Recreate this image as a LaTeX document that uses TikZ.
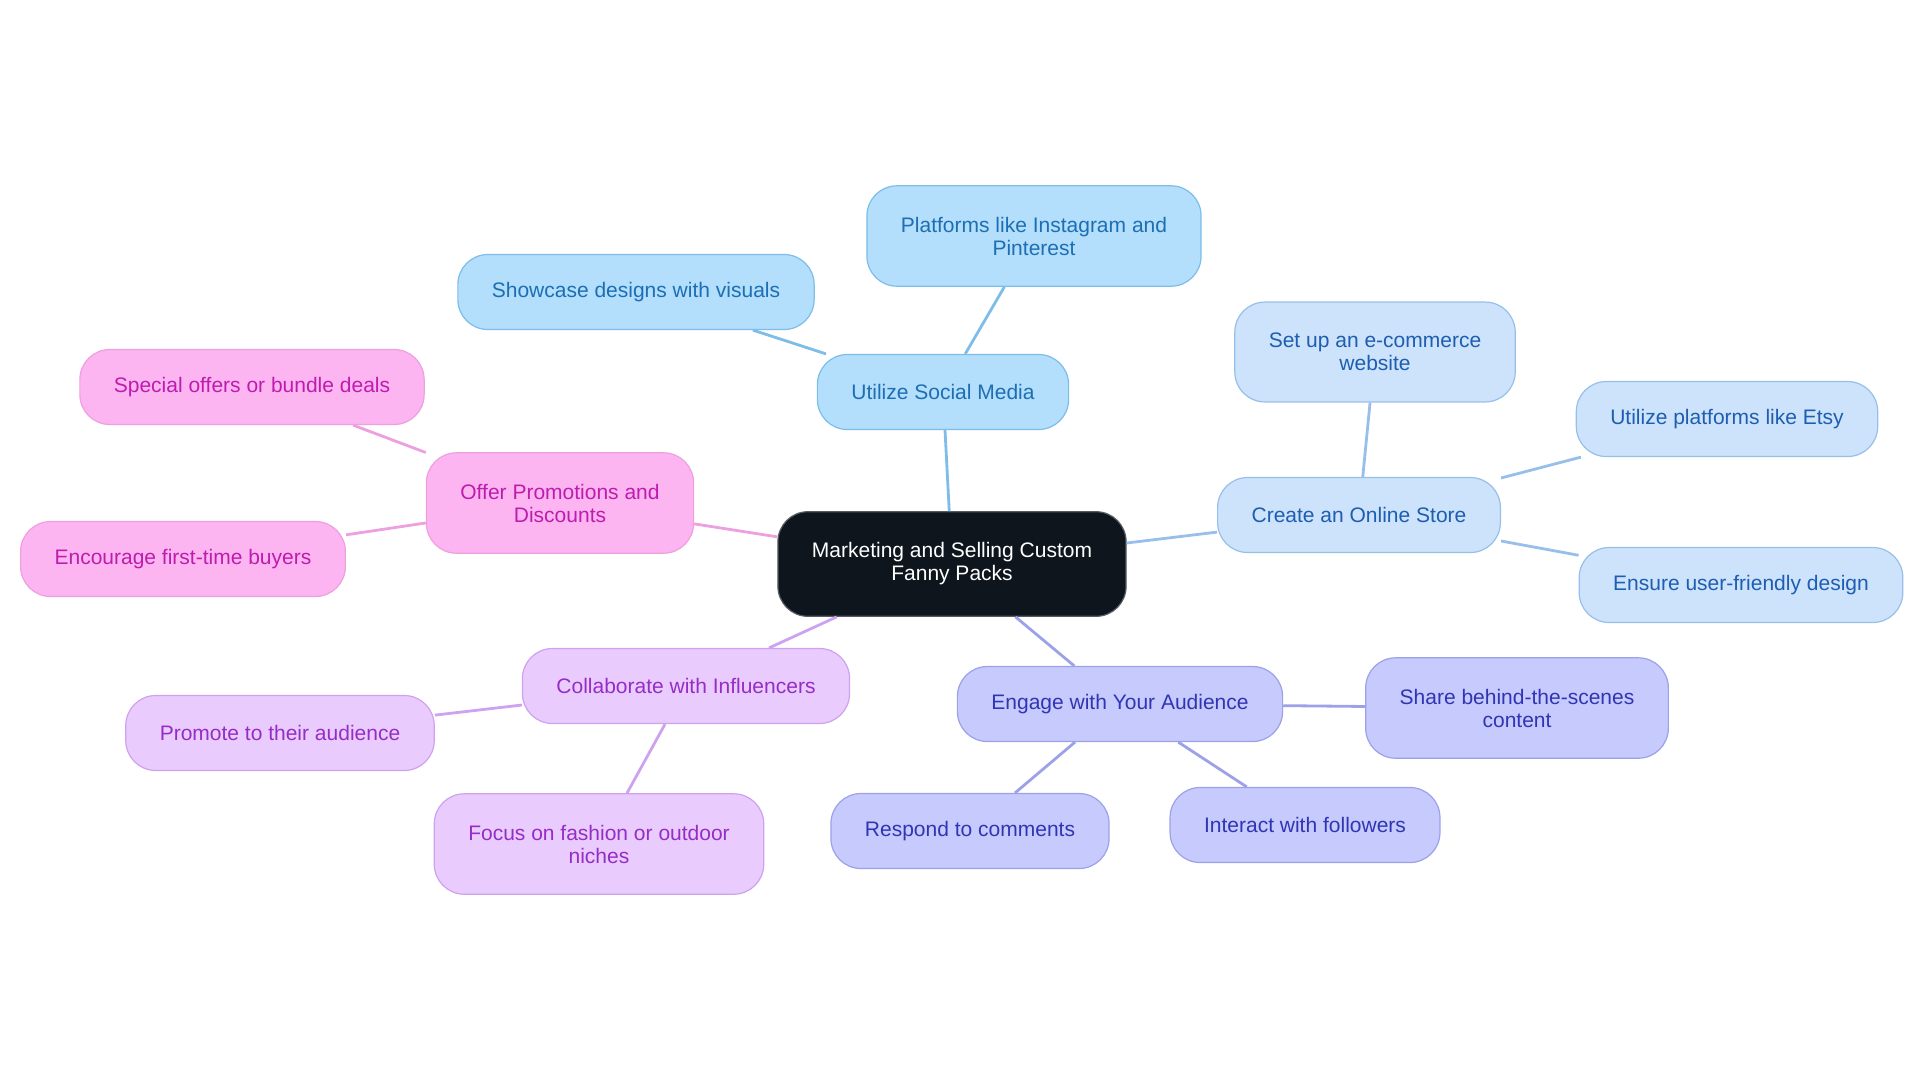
\documentclass[tikz,border=0pt]{standalone}
\usepackage{fontspec}
\setmainfont{Liberation Sans}
\usepackage{tikz}
\definecolor{RootFill}{HTML}{0E151D}
\definecolor{SocFill}{HTML}{B3DEFC}
\definecolor{SocLine}{HTML}{7DBDE8}
\definecolor{SocText}{HTML}{1C6FB3}
\definecolor{StoreFill}{HTML}{CCE3FB}
\definecolor{StoreLine}{HTML}{98BFEA}
\definecolor{StoreText}{HTML}{1E5DB0}
\definecolor{PromoFill}{HTML}{FDB5F2}
\definecolor{PromoLine}{HTML}{EDA0DF}
\definecolor{PromoText}{HTML}{BE1CAE}
\definecolor{InflFill}{HTML}{E9CBFD}
\definecolor{InflLine}{HTML}{CDA2EE}
\definecolor{InflText}{HTML}{952DC6}
\definecolor{EngFill}{HTML}{C7CAFD}
\definecolor{EngLine}{HTML}{9CA1E8}
\definecolor{EngText}{HTML}{3035B3}

\begin{document}
\begin{tikzpicture}[x = 0.5pt, y = -0.5pt,
    every node/.style = {rounded corners = 15pt, inner xsep = 17pt, inner ysep = 13pt,
        minimum height = 37.5pt, align = center, line width = 0.6pt,
        font = \fontsize{10.5}{11.5}\selectfont},
    twoline/.style = {inner ysep = 15.5pt},
    rootbox/.style = {fill = RootFill, draw = RootFill!70!white, text = white},
    socbox/.style = {fill = SocFill, draw = SocLine, text = SocText},
    storebox/.style = {fill = StoreFill, draw = StoreLine, text = StoreText},
    promobox/.style = {fill = PromoFill, draw = PromoLine, text = PromoText},
    inflbox/.style = {fill = InflFill, draw = InflLine, text = InflText},
    engbox/.style = {fill = EngFill, draw = EngLine, text = EngText},
    link/.style = {line width = 1.4pt}]
						\path [use as bounding box, draw = none] (0, 0) rectangle (1920, 1083);

						% root
						\node [rootbox, twoline] (root) at (952, 564) {Marketing and Selling Custom\\Fanny Packs};

						% social media
						\node [socbox] (social) at (943, 392) {Utilize Social Media};
						\node [socbox, twoline] (insta) at (1034, 236) {Platforms like Instagram and\\Pinterest};
						\node [socbox] (visuals) at (636, 292) {Showcase designs with visuals};

						% online store
						\node [storebox] (store) at (1359, 515) {Create an Online Store};
						\node [storebox, twoline] (ecom) at (1375, 352) {Set up an e-commerce\\website};
						\node [storebox] (etsy) at (1727, 419) {Utilize platforms like Etsy};
						\node [storebox] (design) at (1741, 585) {Ensure user-friendly design};

						% promotions
						\node [promobox, twoline] (promo) at (560, 503) {Offer Promotions and\\Discounts};
						\node [promobox] (bundle) at (252, 387) {Special offers or bundle deals};
						\node [promobox] (buyers) at (183, 559) {Encourage first-time buyers};

						% influencers
						\node [inflbox] (infl) at (686, 686) {Collaborate with Influencers};
						\node [inflbox] (promote) at (280, 733) {Promote to their audience};
						\node [inflbox, twoline] (niche) at (599, 844) {Focus on fashion or outdoor\\niches};

						% audience
						\node [engbox] (engage) at (1120, 704) {Engage with Your Audience};
						\node [engbox, twoline] (scenes) at (1517, 708) {Share behind-the-scenes\\content};
						\node [engbox] (respond) at (970, 831) {Respond to comments};
						\node [engbox] (follow) at (1305, 825) {Interact with followers};

						% connectors
						\draw [link, SocLine] (root) -- (social);
						\draw [link, SocLine] (social) -- (insta);
						\draw [link, SocLine] (social) -- (visuals);
						\draw [link, StoreLine] (root) -- (store);
						\draw [link, StoreLine] (store) -- (ecom);
						\draw [link, StoreLine] (store) -- (etsy);
						\draw [link, StoreLine] (store) -- (design);
						\draw [link, PromoLine] (root) -- (promo);
						\draw [link, PromoLine] (promo) -- (bundle);
						\draw [link, PromoLine] (promo) -- (buyers);
						\draw [link, InflLine] (root) -- (infl);
						\draw [link, InflLine] (infl) -- (promote);
						\draw [link, InflLine] (infl) -- (niche);
						\draw [link, EngLine] (root) -- (engage);
						\draw [link, EngLine] (engage) -- (scenes);
						\draw [link, EngLine] (engage) -- (respond);
						\draw [link, EngLine] (engage) -- (follow);
					\end{tikzpicture}
\end{document}
